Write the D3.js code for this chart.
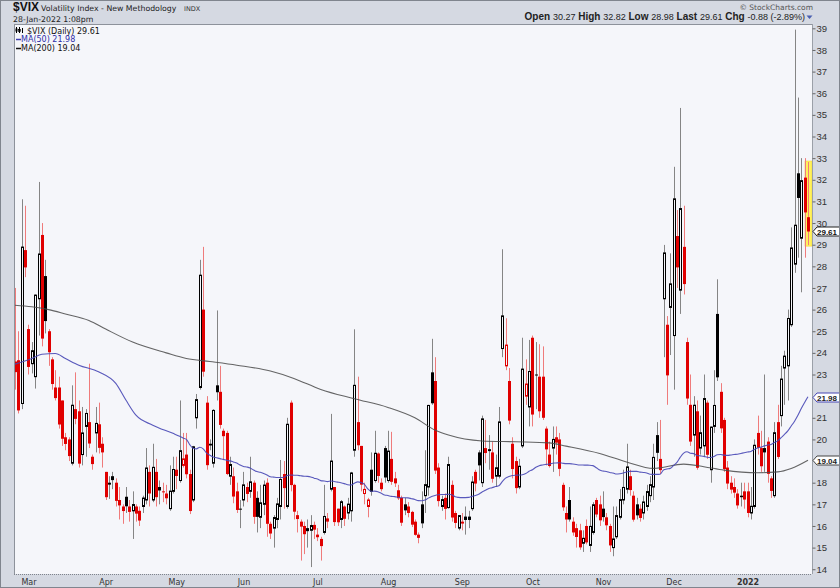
<!DOCTYPE html>
<html><head><meta charset="utf-8">
<script src="https://cdn.jsdelivr.net/npm/d3@7"></script>
<style>
html,body{margin:0;padding:0;background:#fff;}
svg{display:block;}
</style></head><body>
<svg id="c" width="840" height="588"></svg>
<script>
// ---------- DATA ----------
const dates = [
"2021-02-23","2021-02-24","2021-02-25","2021-02-26",
"2021-03-01","2021-03-02","2021-03-03","2021-03-04","2021-03-05","2021-03-08","2021-03-09","2021-03-10","2021-03-11","2021-03-12","2021-03-15","2021-03-16","2021-03-17","2021-03-18","2021-03-19","2021-03-22","2021-03-23","2021-03-24","2021-03-25","2021-03-26","2021-03-29","2021-03-30","2021-03-31",
"2021-04-01","2021-04-05","2021-04-06","2021-04-07","2021-04-08","2021-04-09","2021-04-12","2021-04-13","2021-04-14","2021-04-15","2021-04-16","2021-04-19","2021-04-20","2021-04-21","2021-04-22","2021-04-23","2021-04-26","2021-04-27","2021-04-28","2021-04-29","2021-04-30",
"2021-05-03","2021-05-04","2021-05-05","2021-05-06","2021-05-07","2021-05-10","2021-05-11","2021-05-12","2021-05-13","2021-05-14","2021-05-17","2021-05-18","2021-05-19","2021-05-20","2021-05-21","2021-05-24","2021-05-25","2021-05-26","2021-05-27","2021-05-28",
"2021-06-01","2021-06-02","2021-06-03","2021-06-04","2021-06-07","2021-06-08","2021-06-09","2021-06-10","2021-06-11","2021-06-14","2021-06-15","2021-06-16","2021-06-17","2021-06-18","2021-06-21","2021-06-22","2021-06-23","2021-06-24","2021-06-25","2021-06-28","2021-06-29","2021-06-30",
"2021-07-01","2021-07-02","2021-07-06","2021-07-07","2021-07-08","2021-07-09","2021-07-12","2021-07-13","2021-07-14","2021-07-15","2021-07-16","2021-07-19","2021-07-20","2021-07-21","2021-07-22","2021-07-23","2021-07-26","2021-07-27","2021-07-28","2021-07-29","2021-07-30",
"2021-08-02","2021-08-03","2021-08-04","2021-08-05","2021-08-06","2021-08-09","2021-08-10","2021-08-11","2021-08-12","2021-08-13","2021-08-16","2021-08-17","2021-08-18","2021-08-19","2021-08-20","2021-08-23","2021-08-24","2021-08-25","2021-08-26","2021-08-27","2021-08-30","2021-08-31",
"2021-09-01","2021-09-02","2021-09-03","2021-09-07","2021-09-08","2021-09-09","2021-09-10","2021-09-13","2021-09-14","2021-09-15","2021-09-16","2021-09-17","2021-09-20","2021-09-21","2021-09-22","2021-09-23","2021-09-24","2021-09-27","2021-09-28","2021-09-29","2021-09-30",
"2021-10-01","2021-10-04","2021-10-05","2021-10-06","2021-10-07","2021-10-08","2021-10-11","2021-10-12","2021-10-13","2021-10-14","2021-10-15","2021-10-18","2021-10-19","2021-10-20","2021-10-21","2021-10-22","2021-10-25","2021-10-26","2021-10-27","2021-10-28","2021-10-29",
"2021-11-01","2021-11-02","2021-11-03","2021-11-04","2021-11-05","2021-11-08","2021-11-09","2021-11-10","2021-11-11","2021-11-12","2021-11-15","2021-11-16","2021-11-17","2021-11-18","2021-11-19","2021-11-22","2021-11-23","2021-11-24","2021-11-26","2021-11-29","2021-11-30",
"2021-12-01","2021-12-02","2021-12-03","2021-12-06","2021-12-07","2021-12-08","2021-12-09","2021-12-10","2021-12-13","2021-12-14","2021-12-15","2021-12-16","2021-12-17","2021-12-20","2021-12-21","2021-12-22","2021-12-23","2021-12-27","2021-12-28","2021-12-29","2021-12-30","2021-12-31",
"2022-01-03","2022-01-04","2022-01-05","2022-01-06","2022-01-07","2022-01-10","2022-01-11","2022-01-12","2022-01-13","2022-01-14","2022-01-18","2022-01-19","2022-01-20","2022-01-21","2022-01-24","2022-01-25","2022-01-26","2022-01-27","2022-01-28"
];
const open = [
23.6,23.66,21.66,28.75,
25.1,23.5,22.9,26.5,29.45,27.55,25.0,23.7,22.4,22.4,21.8,20.1,20.0,18.9,21.4,21.3,19.3,20.6,20.8,19.2,20.3,20.7,19.8,
18.5,18.0,18.3,18.0,17.2,16.9,17.35,16.9,16.7,16.9,16.7,16.9,17.2,18.5,17.2,18.5,17.8,17.6,17.5,16.8,17.6,
18.6,18.1,18.8,19.3,18.4,17.2,21.0,22.4,26.0,21.7,19.8,18.9,22.5,22.2,20.4,20.3,18.3,18.3,17.6,16.8,
17.2,17.8,17.6,18.0,17.3,16.4,17.0,18.0,16.1,15.9,16.3,16.9,18.4,16.9,21.7,17.9,16.5,16.2,16.0,15.9,15.8,16.05,
15.6,15.4,15.7,16.35,17.7,17.8,16.8,16.3,16.9,16.6,16.7,19.5,20.8,19.7,17.5,16.9,18.6,18.1,19.35,18.0,19.6,
18.1,19.1,18.2,17.65,17.3,17.0,16.9,16.65,16.2,15.6,17.0,17.4,17.8,23.1,22.7,18.7,16.9,17.3,16.85,17.9,16.6,15.9,
16.2,16.3,16.3,16.8,18.5,19.4,18.0,19.6,19.55,19.4,18.3,18.3,24.2,23.4,22.7,19.8,19.0,17.8,19.7,22.0,21.5,
24.7,23.0,22.9,22.9,20.5,19.3,19.6,20.1,20.0,17.9,16.6,17.2,16.2,15.9,15.8,15.2,16.0,15.1,15.7,17.2,17.0,
16.8,16.4,16.0,15.0,15.5,16.4,17.2,17.7,18.3,17.4,17.0,16.8,16.6,16.9,17.4,17.8,20.2,19.1,26.5,25.3,26.1,
24.8,29.4,26.9,28.9,24.5,21.6,20.2,21.3,19.6,19.7,21.7,18.6,20.6,25.8,22.2,20.9,18.7,18.0,17.8,17.5,17.4,17.6,
17.6,16.6,16.9,20.3,19.6,19.6,19.9,18.2,17.4,20.8,21.1,23.3,23.4,25.3,28.1,32.3,29.3,32.1,30.27
];
const high = [
27.0,25.0,31.1,30.8,
25.3,24.5,26.7,31.9,30.0,28.3,25.1,23.8,23.2,22.9,21.8,20.3,20.1,22.5,23.1,21.8,21.5,21.4,23.5,19.3,21.5,21.7,20.1,
18.5,18.3,18.5,18.2,17.8,17.0,17.8,17.2,17.6,17.0,16.9,17.4,19.6,18.8,19.8,19.1,18.1,18.0,17.9,18.8,19.2,
19.2,21.8,20.3,20.3,18.6,19.7,22.1,28.3,28.9,22.0,20.0,21.4,25.96,23.4,20.5,20.4,19.2,18.7,18.0,17.2,
18.5,18.0,19.2,18.1,17.6,17.9,18.1,18.2,16.2,16.5,17.3,19.05,19.0,21.0,21.8,17.95,16.7,16.3,16.2,16.3,16.5,16.2,
15.9,15.5,17.9,16.6,21.18,17.8,16.8,17.2,16.95,17.3,18.5,25.09,22.9,19.7,18.0,17.3,19.4,20.4,19.4,18.2,19.7,
20.4,20.35,18.5,17.9,17.4,17.3,17.1,16.7,16.3,15.7,17.6,19.5,21.6,24.65,23.8,18.9,17.4,17.5,19.2,18.1,16.7,16.5,
16.6,16.9,16.7,18.3,18.6,19.5,21.1,20.9,20.2,19.9,19.3,21.5,28.79,25.6,23.3,20.1,19.2,19.1,24.7,23.7,24.6,
24.8,24.5,24.4,24.3,20.6,19.9,20.6,20.6,20.3,18.0,16.9,17.8,16.4,16.1,16.1,15.8,16.3,16.9,17.1,17.3,17.4,
17.6,16.6,16.1,16.9,16.9,17.7,18.6,19.8,18.6,17.6,17.3,17.0,17.4,17.9,18.3,19.8,20.8,20.9,28.99,25.7,28.6,
32.6,30.6,35.32,30.8,24.7,23.0,22.0,21.8,21.1,23.0,21.8,20.6,23.2,27.4,22.6,21.0,19.0,18.3,18.2,17.7,18.0,18.0,
18.0,17.8,20.0,21.1,20.4,23.0,20.1,18.3,20.8,21.6,23.4,24.1,26.0,29.8,38.94,35.8,33.0,33.0,32.82
];
const low = [
22.3,21.2,21.4,27.5,
23.0,23.05,22.35,24.8,24.3,24.9,23.4,22.3,21.8,20.5,19.7,19.5,19.0,18.8,20.7,18.7,18.8,19.2,19.6,18.6,19.4,19.35,18.7,
17.2,17.25,17.7,16.9,16.3,16.1,16.6,16.2,15.4,16.2,16.0,16.6,17.0,16.9,17.1,16.9,17.0,17.1,17.0,16.7,17.5,
17.7,18.0,18.7,18.2,16.55,17.1,20.5,22.3,22.9,18.6,19.5,18.7,21.8,20.5,19.05,18.35,17.9,17.05,16.6,15.9,
16.9,17.1,17.3,16.1,15.7,15.9,16.5,15.5,15.4,15.0,15.9,16.3,16.8,16.8,17.6,16.3,15.7,14.4,14.7,15.0,14.1,15.4,
15.3,14.4,15.6,15.9,17.6,16.0,16.0,15.9,16.0,16.3,16.2,19.2,19.5,17.6,17.0,16.4,17.4,18.0,18.0,17.6,18.0,
18.0,17.9,17.8,17.2,16.0,16.5,16.4,15.95,15.55,15.2,15.9,16.6,17.4,21.6,18.4,16.9,16.7,16.3,16.8,16.2,15.9,15.8,
15.8,15.6,15.9,16.7,17.6,18.1,17.8,18.9,18.6,18.0,17.8,18.2,23.8,23.2,20.7,18.2,17.5,17.7,19.6,21.6,20.6,
20.6,21.4,21.0,20.9,18.8,18.7,18.5,19.3,18.3,16.7,15.7,16.2,15.55,15.0,14.9,14.8,15.15,14.8,15.6,16.4,16.0,
16.2,15.8,14.8,14.6,15.4,16.3,17.0,17.5,17.4,16.2,16.3,16.2,16.3,16.7,17.1,17.2,19.0,18.4,23.8,21.6,23.9,
22.3,27.0,25.8,26.7,21.6,19.7,19.2,18.6,19.3,19.2,19.1,18.0,20.3,22.7,20.3,18.5,17.7,17.5,17.3,16.8,16.9,16.8,
16.4,16.3,16.8,19.3,18.5,18.5,18.0,17.3,17.3,19.1,20.6,21.6,21.8,25.2,27.7,28.4,26.8,28.4,28.98
];
const close = [
23.11,21.34,28.89,27.95,
23.35,24.10,26.67,28.57,24.66,25.47,24.03,22.56,21.91,20.69,20.03,19.79,19.23,21.58,20.95,18.88,20.30,21.20,19.81,18.86,20.74,19.61,19.40,
17.33,17.91,18.12,17.16,16.95,16.69,16.91,16.65,16.99,16.57,16.25,17.29,18.68,17.50,18.71,17.33,17.64,17.56,17.28,17.61,18.61,
18.31,19.48,19.10,18.39,16.69,19.66,21.84,27.59,23.13,18.81,19.72,21.34,22.18,20.67,20.15,18.40,18.84,17.36,16.74,16.76,
17.90,17.48,18.04,16.42,16.42,17.07,17.89,16.10,15.65,16.39,17.02,18.15,17.75,20.70,17.89,16.66,16.32,15.97,15.62,15.76,16.02,15.83,
15.48,15.07,16.44,16.20,19.00,16.18,16.17,17.12,16.33,17.01,18.45,22.50,19.73,17.91,17.69,17.20,17.58,19.36,18.31,17.70,18.24,
19.46,18.04,17.97,17.28,16.15,16.72,16.60,16.06,15.59,15.45,16.12,17.91,21.57,21.67,18.56,17.15,17.22,16.79,18.84,16.39,16.14,16.48,
16.11,16.41,16.41,18.03,17.96,18.80,20.95,19.37,19.46,18.18,18.69,20.81,25.71,24.36,20.87,18.63,17.75,18.76,23.25,22.56,23.14,
21.15,22.96,21.30,21.00,19.54,18.77,20.00,19.85,18.64,16.86,16.30,16.30,15.70,15.49,15.01,15.43,15.24,15.98,16.98,16.53,16.26,
16.41,16.03,15.10,15.40,16.48,17.22,17.78,18.73,17.66,16.29,16.49,16.37,17.11,17.59,17.91,19.17,19.38,18.58,28.62,22.96,27.19,
31.12,27.95,30.67,27.18,21.89,19.90,21.58,18.69,20.31,21.89,19.29,20.57,21.57,22.87,20.51,18.63,17.96,17.68,17.54,16.95,17.33,17.22,
16.60,16.91,19.73,19.61,18.76,19.40,18.41,17.62,20.31,19.19,22.79,23.85,25.59,28.85,29.90,31.16,31.96,30.49,29.61
];
const prevClose = 23.45; // close before the first bar (colours bar 0)

const ma50EarlyIdx = [0,5,8,12,15,19,25,30,33,36,41,47];
const ma50Early    = [23.48,23.74,23.94,23.97,23.74,23.43,23.12,22.59,21.82,21.12,20.66,20.28];
// MA(200)
const ma200Idx = [0,5,10,15,22,27,35,45,51,58,66,76,83,91,101,111,119,125,129,139,149,159,164,174,182,190,199,205,211,221,227,231,236];
const ma200    = [26.2,26.13,26.0,25.8,25.5,25.1,24.5,24.0,23.74,23.6,23.43,23.16,22.82,22.31,21.88,21.48,21.0,20.43,20.2,19.93,19.89,19.84,19.69,19.35,18.96,18.66,18.86,18.74,18.58,18.46,18.5,18.66,19.04];

const yTicks = [14,15,16,17,18,19,20,21,22,23,24,25,26,27,28,29,30,31,32,33,34,35,36,37,38,39];
const monthTicks  = ["2021-03-01","2021-04-01","2021-05-03","2021-06-01","2021-07-01","2021-08-02","2021-09-01","2021-10-01","2021-11-01","2021-12-01","2022-01-03"];
const monthLabels = ["Mar","Apr","May","Jun","Jul","Aug","Sep","Oct","Nov","Dec","2022"];

const headerTitle = "$VIX", headerName = "Volatility Index - New Methodology", headerExch = "INDX";
const headerDate = "28-Jan-2022 1:08pm";
const quote = [["Open","30.27"],["High","32.82"],["Low","28.98"],["Last","29.61"],["Chg","-0.88 (-2.89%)"]];
const legendMain = "$VIX (Daily) 29.61", legendMA50 = "MA(50) 21.98", legendMA200 = "MA(200) 19.04";
const lastVal = 29.61, ma50Last = 21.98, ma200Last = 19.04;

// ---------- LAYOUT ----------
const W = 840, H = 588, L = 14, R = 812, T = 24, B = 574;
const BG = "#f5f6fa", FRAME = "#d5d9e2";
const RED = "#e00000", REDWICK = "#ef7b7b", BLK = "#000", GRAYWICK = "#858585";
const SANS = "'Liberation Sans', Arial, sans-serif", DV = "'DejaVu Sans', Verdana, sans-serif";

const svg = d3.select("#c");
svg.append("rect").attr("width", W).attr("height", H).attr("fill", FRAME);
svg.append("rect").attr("x", L).attr("y", T).attr("width", R - L).attr("height", B - T).attr("fill", BG);

const x = d3.scalePoint().domain(dates).range([15, 808]);
const y = d3.scaleLinear().domain([13.78, 39.2]).range([B, T]);

svg.append("clipPath").attr("id", "clip").append("rect")
  .attr("x", L).attr("y", T).attr("width", R - L).attr("height", B - T);
const plot = svg.append("g").attr("clip-path", "url(#clip)");

const bars = dates.map((d, i) => {
  const pc = i > 0 ? close[i - 1] : prevClose;
  return { d, o: open[i], h: high[i], l: low[i], c: close[i], red: close[i] < pc, hollow: close[i] >= open[i] };
});

// highlight last bar
const lastBar = bars[bars.length - 1];
plot.append("rect")
  .attr("x", Math.round(x(lastBar.d)) - 3).attr("width", 7)
  .attr("y", y(lastBar.h) - 1).attr("height", y(lastBar.l) - y(lastBar.h) + 2)
  .attr("fill", "#fff25a").attr("stroke", "#f2d23c").attr("stroke-width", 0.6);

// wicks
plot.append("g").selectAll("line").data(bars).join("line")
  .attr("x1", b => Math.round(x(b.d)) + 0.5).attr("x2", b => Math.round(x(b.d)) + 0.5)
  .attr("y1", b => y(b.h)).attr("y2", b => y(b.l))
  .attr("stroke", b => b.red ? REDWICK : GRAYWICK).attr("stroke-width", 1);

// bodies
plot.append("g").selectAll("rect").data(bars).join("rect")
  .attr("x", b => Math.round(x(b.d)) - 1 + (b.hollow ? 0.5 : 0))
  .attr("width", b => b.hollow ? 2 : 3)
  .attr("y", b => y(Math.max(b.o, b.c)))
  .attr("height", b => Math.max(b.hollow ? 0.6 : 1, y(Math.min(b.o, b.c)) - y(Math.max(b.o, b.c))))
  .attr("fill", b => b.hollow ? BG : (b.red ? RED : BLK))
  .attr("stroke", b => b.hollow ? (b.red ? RED : BLK) : "none")
  .attr("stroke-width", 1);

// moving averages
const ma50Pts = ma50EarlyIdx.map((i, k) => ({ i, v: ma50Early[k] }));
for (let i = 49; i < close.length; i++) ma50Pts.push({ i, v: d3.mean(close.slice(i - 49, i + 1)) });
const ma200Pts = ma200Idx.map((i, k) => ({ i, v: ma200[k] }));
const maLine = d3.line().x(p => x(dates[p.i])).y(p => y(p.v)).curve(d3.curveMonotoneX);
plot.append("path").attr("d", maLine(ma200Pts)).attr("fill", "none").attr("stroke", "#4a4a4a").attr("stroke-width", 1.1).attr("stroke-opacity", 0.85);
plot.append("path").attr("d", maLine(ma50Pts)).attr("fill", "none").attr("stroke", "#4747b5").attr("stroke-width", 1.1).attr("stroke-opacity", 0.9);

// plot borders
svg.append("line").attr("x1", L + 0.5).attr("x2", L + 0.5).attr("y1", T).attr("y2", B).attr("stroke", "#8d929b");
svg.append("line").attr("x1", R + 0.5).attr("x2", R + 0.5).attr("y1", T).attr("y2", B).attr("stroke", "#9ba0a8");
svg.append("line").attr("x1", L).attr("x2", R).attr("y1", T + 0.5).attr("y2", T + 0.5).attr("stroke", "#8d929b");
svg.append("line").attr("x1", L).attr("x2", R).attr("y1", B + 0.5).attr("y2", B + 0.5).attr("stroke", "#7f848c").attr("stroke-dasharray", "1,1");

// value tags (their rows hide the axis labels underneath, as in the original)
const tags = [[ma200Last, "#444", "#222"], [ma50Last, "#4747b5", "#222"], [lastVal, "#222", "#111"]];
const visibleTicks = yTicks.filter(t => tags.every(([v]) => Math.abs(y(t) - y(v)) > 7));

// y axis (right)
const yAxis = d3.axisRight(y).tickValues(visibleTicks).tickSize(3).tickPadding(1).tickFormat(d3.format("d"));
const ya = svg.append("g").attr("transform", `translate(${R + 0.5},0)`).call(yAxis);
ya.select(".domain").remove();
ya.selectAll(".tick line").attr("stroke", "#666");
ya.selectAll("text").attr("fill", "#333").attr("font-family", SANS).attr("font-size", 9.5);

// x axis (bottom)
const xAxis = d3.axisBottom(x).tickValues(monthTicks).tickSize(0).tickPadding(5).tickFormat((d, i) => monthLabels[i]);
const xa = svg.append("g").attr("transform", `translate(0,${B})`).call(xAxis);
xa.select(".domain").remove();
xa.selectAll("text").attr("fill", "#333").attr("font-family", DV).attr("font-size", 8)
  .attr("font-weight", (d, i) => monthLabels[i] === "2022" ? "bold" : "normal");

function tag(v, stroke, txtColor) {
  const cy = Math.round(y(v)) + 0.5;
  const g = svg.append("g");
  g.append("path").attr("d", `M${R + 1},${cy} L${R + 5},${cy - 4.5} L${W + 2},${cy - 4.5} L${W + 2},${cy + 4.5} L${R + 5},${cy + 4.5} Z`)
    .attr("fill", "#fff").attr("stroke", stroke).attr("stroke-width", 1);
  g.append("text").attr("x", R + 5).attr("y", cy + 3).text(v.toFixed(2))
    .attr("font-family", SANS).attr("font-size", 8).attr("font-weight", "bold").attr("fill", txtColor);
}
tags.forEach(([v, s, c]) => tag(v, s, c));

// header
const hd = svg.append("g");
hd.append("text").attr("x", 13).attr("y", 11).attr("font-family", SANS).attr("font-weight", "bold").attr("font-size", 12).attr("fill", "#111").text(headerTitle);
hd.append("text").attr("x", 41).attr("y", 10.5).attr("font-family", DV).attr("font-size", 7.8).attr("fill", "#222").text(headerName);
hd.append("text").attr("x", 184).attr("y", 10.5).attr("font-family", DV).attr("font-size", 6.5).attr("fill", "#333").text(headerExch);
hd.append("text").attr("x", 13).attr("y", 21.5).attr("font-family", DV).attr("font-size", 7.8).attr("fill", "#222").text(headerDate);
hd.append("text").attr("x", 813).attr("y", 10).attr("text-anchor", "end").attr("font-family", DV).attr("font-size", 7.5).attr("fill", "#555").text("\u00a9 StockCharts.com");
const q = hd.append("text").attr("x", 805).attr("y", 20).attr("text-anchor", "end").attr("font-family", SANS).attr("font-size", 9).attr("fill", "#222");
quote.forEach(([k, v], i) => {
  q.append("tspan").attr("font-weight", "bold").attr("font-size", 10).text((i ? "  " : "") + k + " ");
  q.append("tspan").text(v);
});
hd.append("path").attr("d", "M806.5,15.5 L812.5,15.5 L809.5,19 Z").attr("fill", "#4a5fb0");

// legend
const lg = svg.append("g").attr("font-family", DV).attr("font-size", 8);
lg.append("line").attr("x1", 16.5).attr("x2", 16.5).attr("y1", 27).attr("y2", 33).attr("stroke", "#000");
lg.append("rect").attr("x", 15.5).attr("y", 28.5).attr("width", 2).attr("height", 3).attr("fill", "#000");
lg.append("line").attr("x1", 19.5).attr("x2", 19.5).attr("y1", 27).attr("y2", 33).attr("stroke", "#000");
lg.append("rect").attr("x", 18.5).attr("y", 29.5).attr("width", 2).attr("height", 2).attr("fill", "none").attr("stroke", "#000").attr("stroke-width", 0.7);
lg.append("line").attr("x1", 22.5).attr("x2", 22.5).attr("y1", 28).attr("y2", 33).attr("stroke", "#000");
lg.append("text").attr("x", 27).attr("y", 33.5).attr("fill", "#111").text(legendMain);
lg.append("line").attr("x1", 16).attr("x2", 21).attr("y1", 39.5).attr("y2", 39.5).attr("stroke", "#3c3cb0").attr("stroke-width", 1.5);
lg.append("text").attr("x", 21).attr("y", 42).attr("fill", "#2e2ea8").text(legendMA50);
lg.append("line").attr("x1", 16).attr("x2", 21).attr("y1", 48.5).attr("y2", 48.5).attr("stroke", "#111").attr("stroke-width", 1.5);
lg.append("text").attr("x", 21).attr("y", 51).attr("fill", "#111").text(legendMA200);

// outer border
svg.append("rect").attr("x", 0.5).attr("y", 0.5).attr("width", W - 1).attr("height", H - 1).attr("fill", "none").attr("stroke", "#80858e");
</script>
</body></html>
